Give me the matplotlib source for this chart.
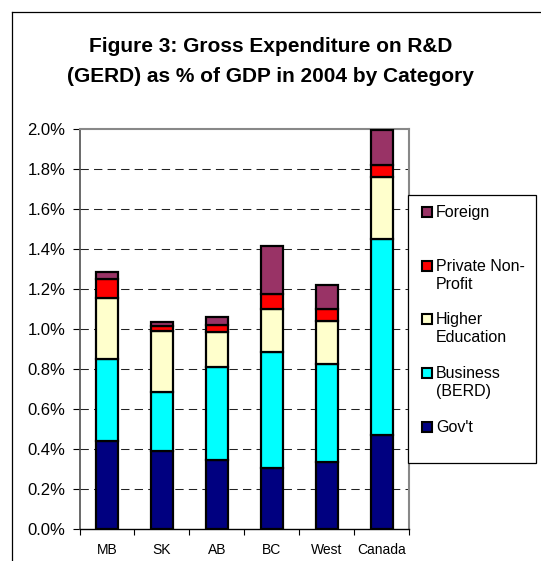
import numpy as np
import matplotlib
matplotlib.use("Agg")
from matplotlib import pyplot as plt
from matplotlib.patches import Rectangle
from matplotlib.lines import Line2D
from matplotlib.ticker import FuncFormatter

plt.rcParams['font.family'] = ['Liberation Sans', 'DejaVu Sans']

regions = ['MB', 'SK', 'AB', 'BC', 'West', 'Canada']
govt = [0.44, 0.393, 0.347, 0.305, 0.338, 0.47]
business = [0.41, 0.295, 0.463, 0.58, 0.487, 0.98]
higher_ed = [0.305, 0.302, 0.175, 0.215, 0.218, 0.313]
private_np = [0.095, 0.028, 0.038, 0.075, 0.057, 0.057]
foreign = [0.035, 0.02, 0.037, 0.242, 0.12, 0.178]

series = [
    ("Gov't", govt, '#000080'),
    ('Business\n(BERD)', business, '#00FFFF'),
    ('Higher\nEducation', higher_ed, '#FFFFCC'),
    ('Private Non-\nProfit', private_np, '#FF0000'),
    ('Foreign', foreign, '#993366'),
]

W, H = 541, 561
fig = plt.figure(figsize=(W / 100, H / 100), dpi=100)


def fx(px):
    return px / W


def fy(py):
    return 1 - py / H


# outer frame (only top and left edges are visible in the crop)
fig.add_artist(Line2D([fx(12), fx(12)], [fy(12), 0], transform=fig.transFigure,
                      color='black', lw=0.9))
fig.add_artist(Line2D([fx(12), 1], [fy(12), fy(12)], transform=fig.transFigure,
                      color='black', lw=0.9))

ax = fig.add_axes([fx(79.5), fy(529.3), fx(409.3) - fx(79.5), fy(129.3) - fy(529.3)])

x = np.arange(len(regions))
bottom = np.zeros(len(regions))
for label, vals, color in series:
    ax.bar(x, vals, width=0.4, bottom=bottom, color=color, edgecolor='black',
           linewidth=1.6, zorder=3)
    bottom += np.array(vals)

ax.set_xlim(-0.5, len(regions) - 0.5)
ax.set_ylim(0, 2.0)
ax.set_yticks(np.arange(0, 2.01, 0.2))
ax.yaxis.set_major_formatter(FuncFormatter(lambda v, p: f'{v:.1f}%'))
ax.tick_params(axis='y', direction='out', length=5, width=0.8, labelsize=12, pad=5)

ax.set_xticks(x)
ax.set_xticklabels(regions, fontsize=10)
ax.set_xticks(np.arange(-0.5, len(regions), 1.0), minor=True)
ax.tick_params(axis='x', which='major', length=0, pad=10)
ax.tick_params(axis='x', which='minor', direction='out', length=4, width=0.8)

for v in np.arange(0.2, 1.81, 0.2):
    ax.axhline(v, color='#222222', lw=0.75, linestyle=(0, (8, 5)), zorder=1)

ax.spines['top'].set_color('#888888')
ax.spines['right'].set_color('#888888')
ax.spines['top'].set_linewidth(1.5)
ax.spines['right'].set_linewidth(1.5)
ax.spines['left'].set_color('#505050')
ax.spines['left'].set_linewidth(1.2)
ax.spines['bottom'].set_color('black')
ax.spines['bottom'].set_linewidth(1.0)

# title
fig.text(0.5, fy(47), 'Figure 3: Gross Expenditure on R&D', ha='center', va='center',
         fontsize=15, fontweight='bold')
fig.text(0.5, fy(77), '(GERD) as % of GDP in 2004 by Category', ha='center', va='center',
         fontsize=15, fontweight='bold')

# legend box drawn by hand to match the layout
fig.add_artist(Rectangle((fx(408), fy(463)), fx(536) - fx(408), fy(195) - fy(463),
                         transform=fig.transFigure, facecolor='white',
                         edgecolor='black', lw=0.9, zorder=5))
legend_y = [427, 373, 319, 266, 212]
for (label, vals, color), ly in zip(series, legend_y):
    fig.add_artist(Rectangle((fx(422), fy(ly + 5)), fx(432) - fx(422), fy(ly - 5) - fy(ly + 5),
                             transform=fig.transFigure, facecolor=color,
                             edgecolor='black', lw=1.5, zorder=6))
    fig.text(fx(436), fy(ly - 7), label, ha='left', va='top', fontsize=11.5,
             zorder=6, linespacing=1.25)

fig.savefig('out.png', dpi=100)
